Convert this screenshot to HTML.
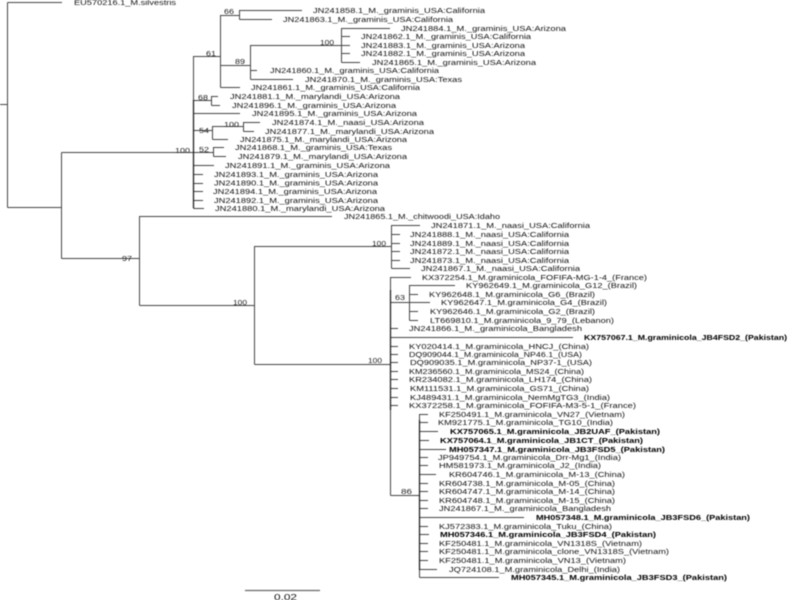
<!DOCTYPE html>
<html><head><meta charset="utf-8"><style>
html,body{margin:0;padding:0;background:#fff;width:800px;height:600px;overflow:hidden}
svg{display:block;filter:blur(.45px)}
text{font-family:"Liberation Sans",sans-serif;font-size:7.6px;fill:#111}
.b{font-weight:bold;fill:#000}
.n{font-size:7.6px;fill:#222}
path{stroke:#444;stroke-width:1;fill:none}
</style></head><body>
<svg width="800" height="600" viewBox="0 0 800 600" xmlns="http://www.w3.org/2000/svg">
<path d="M0 104.500H7.500M7.500 2.500V207.500M7.500 2.500H62M7.500 207.500H61.500M61.500 152.500V258.500M61.500 152.500H193.500M61.500 258.500H139.500
M193.500 56V208.500M193.500 56.500H220.500M220.500 15V87.500M220.500 15.500H239.500M239.500 10V19.500M239.500 10.500H302M239.500 19.500H272
M220.500 65.500H250.500M250.500 45V79.500M250.500 45.500H341.500M341.500 28V62.500M341.500 28.500H390M341.500 36.500H350M341.500 45.500H350M341.500 53.500H350M341.500 62.500H360
M250.500 70.500H257M250.500 79.500H293M220.500 87.500H240
M193.500 100.500H211.500M211.500 96V105.500M211.500 96.500H218M211.500 105.500H220M193.500 113.500H240
M193.500 130.500H212.500M212.500 126V139.500M212.500 126.500H243.500M243.500 122V131.500M243.500 122.500H260M243.500 131.500H254M212.500 139.500H228
M193.500 152.500H213.500M213.500 147V156.500M213.500 147.500H224M213.500 156.500H226
M193.500 165.500H214M193.500 174.500H203M193.500 183.500H203M193.500 191.500H203M193.500 200.500H203M193.500 208.500H204
M139.500 216V305.500M139.500 216.500H332M139.500 305.500H254.500M254.500 246V364.500M254.500 246.500H391.500M391.500 225V268.500
M391.500 225.500H420M391.500 234.500H400M391.500 243.500H400M391.500 251.500H400M391.500 260.500H400M391.500 268.500H410
M254.500 364.500H390.500M390.500 277V495.500M390.500 277.500H411M390.500 302.500H409.500M409.500 285V320.500M409.500 285.500H455M409.500 294.500H418M409.500 302.500H430M409.500 311.500H418M409.500 320.500H418
M390.500 328.500H398M390.500 337.500H573M390.500 346.500H398M390.500 354.500H398M390.500 362.500H398M390.500 371.500H398M390.500 379.500H398M390.500 388.500H398M390.500 397.500H398M390.500 405.500H398
M390.500 495.500H419.500M419.500 414V577.500M419.500 414.500H428M419.500 422.500H428M419.500 431.500H438M419.500 440.500H429M419.500 449.500H446M419.500 457.500H428M419.500 465.500H428M419.500 474.500H436M419.500 483.500H428M419.500 491.500H428M419.500 500.500H428M419.500 508.500H428M419.500 517.500H524M419.500 526.500H428M419.500 534.500H429M419.500 543.500H428M419.500 551.500H428M419.500 560.500H428M419.500 569.500H437M419.500 577.500H499
"/>
<path d="M193.500 100V208M390.500 290V410M419.500 420V570" style="stroke:#222;stroke-width:1.300"/>
<path d="M245 590.500H320" style="stroke:#666;stroke-width:1.200"/>

<text lengthAdjust="spacingAndGlyphs" x="74" y="5" textLength="102">EU570216.1_M.silvestris</text>
<text lengthAdjust="spacingAndGlyphs" x="313" y="13" textLength="172">JN241858.1_M._graminis_USA:California</text>
<text lengthAdjust="spacingAndGlyphs" x="283" y="22" textLength="170">JN241863.1_M._graminis_USA:California</text>
<text lengthAdjust="spacingAndGlyphs" x="401" y="31" textLength="165">JN241884.1_M._graminis_USA:Arizona</text>
<text lengthAdjust="spacingAndGlyphs" x="361" y="39" textLength="170">JN241862.1_M._graminis_USA:California</text>
<text lengthAdjust="spacingAndGlyphs" x="361" y="48" textLength="164">JN241883.1_M._graminis_USA:Arizona</text>
<text lengthAdjust="spacingAndGlyphs" x="361" y="56" textLength="164">JN241882.1_M._graminis_USA:Arizona</text>
<text lengthAdjust="spacingAndGlyphs" x="372" y="65" textLength="164">JN241865.1_M._graminis_USA:Arizona</text>
<text lengthAdjust="spacingAndGlyphs" x="270" y="73" textLength="169">JN241860.1_M._graminis_USA:California</text>
<text lengthAdjust="spacingAndGlyphs" x="305" y="82" textLength="157">JN241870.1_M._graminis_USA:Texas</text>
<text lengthAdjust="spacingAndGlyphs" x="251" y="90" textLength="169">JN241861.1_M._graminis_USA:California</text>
<text lengthAdjust="spacingAndGlyphs" x="230" y="99" textLength="170">JN241881.1_M._marylandi_USA:Arizona</text>
<text lengthAdjust="spacingAndGlyphs" x="232" y="108" textLength="164">JN241896.1_M._graminis_USA:Arizona</text>
<text lengthAdjust="spacingAndGlyphs" x="252" y="116" textLength="165">JN241895.1_M._graminis_USA:Arizona</text>
<text lengthAdjust="spacingAndGlyphs" x="272" y="125" textLength="152">JN241874.1_M._naasi_USA:Arizona</text>
<text lengthAdjust="spacingAndGlyphs" x="265" y="134" textLength="169">JN241877.1_M._marylandi_USA:Arizona</text>
<text lengthAdjust="spacingAndGlyphs" x="240" y="142" textLength="167">JN241875.1_M._marylandi_USA:Arizona</text>
<text lengthAdjust="spacingAndGlyphs" x="235" y="150" textLength="157">JN241868.1_M._graminis_USA:Texas</text>
<text lengthAdjust="spacingAndGlyphs" x="238" y="159" textLength="169">JN241879.1_M._marylandi_USA:Arizona</text>
<text lengthAdjust="spacingAndGlyphs" x="225" y="168" textLength="165">JN241891.1_M._graminis_USA:Arizona</text>
<text lengthAdjust="spacingAndGlyphs" x="214" y="177" textLength="164">JN241893.1_M._graminis_USA:Arizona</text>
<text lengthAdjust="spacingAndGlyphs" x="214" y="185.500" textLength="164">JN241890.1_M._graminis_USA:Arizona</text>
<text lengthAdjust="spacingAndGlyphs" x="213" y="194" textLength="164">JN241894.1_M._graminis_USA:Arizona</text>
<text lengthAdjust="spacingAndGlyphs" x="214" y="203" textLength="164">JN241892.1_M._graminis_USA:Arizona</text>
<text lengthAdjust="spacingAndGlyphs" x="215" y="211" textLength="170">JN241880.1_M._marylandi_USA:Arizona</text>
<text lengthAdjust="spacingAndGlyphs" x="344" y="219" textLength="156">JN241865.1_M._chitwoodi_USA:Idaho</text>
<text lengthAdjust="spacingAndGlyphs" x="431" y="228" textLength="159">JN241871.1_M._naasi_USA:California</text>
<text lengthAdjust="spacingAndGlyphs" x="410" y="237" textLength="159">JN241888.1_M._naasi_USA:California</text>
<text lengthAdjust="spacingAndGlyphs" x="410" y="246" textLength="159">JN241889.1_M._naasi_USA:California</text>
<text lengthAdjust="spacingAndGlyphs" x="410" y="254" textLength="159">JN241872.1_M._naasi_USA:California</text>
<text lengthAdjust="spacingAndGlyphs" x="410" y="263" textLength="159">JN241873.1_M._naasi_USA:California</text>
<text lengthAdjust="spacingAndGlyphs" x="421" y="271" textLength="159">JN241867.1_M._naasi_USA:California</text>
<text lengthAdjust="spacingAndGlyphs" x="422" y="280" textLength="225">KX372254.1_M.graminicola_FOFIFA-MG-1-4_(France)</text>
<text lengthAdjust="spacingAndGlyphs" x="466" y="288" textLength="171">KY962649.1_M.graminicola_G12_(Brazil)</text>
<text lengthAdjust="spacingAndGlyphs" x="429" y="297" textLength="166">KY962648.1_M.graminicola_G6_(Brazil)</text>
<text lengthAdjust="spacingAndGlyphs" x="441" y="305" textLength="166">KY962647.1_M.graminicola_G4_(Brazil)</text>
<text lengthAdjust="spacingAndGlyphs" x="430" y="314" textLength="165">KY962646.1_M.graminicola_G2_(Brazil)</text>
<text lengthAdjust="spacingAndGlyphs" x="430" y="323" textLength="184">LT669810.1_M.graminicola_9_79_(Lebanon)</text>
<text lengthAdjust="spacingAndGlyphs" x="409" y="331" textLength="173">JN241866.1_M._graminicola_Bangladesh</text>
<text lengthAdjust="spacingAndGlyphs" class="b" x="584" y="340" textLength="203">KX757067.1_M.graminicola_JB4FSD2_(Pakistan)</text>
<text lengthAdjust="spacingAndGlyphs" x="409" y="349" textLength="180">KY020414.1_M.graminicola_HNCJ_(China)</text>
<text lengthAdjust="spacingAndGlyphs" x="409" y="357" textLength="173">DQ909044.1_M.graminicola_NP46.1_(USA)</text>
<text lengthAdjust="spacingAndGlyphs" x="410" y="365" textLength="182">DQ909035.1_M.graminicola_NP37-1_(USA)</text>
<text lengthAdjust="spacingAndGlyphs" x="409" y="374" textLength="175">KM236560.1_M.graminicola_MS24_(China)</text>
<text lengthAdjust="spacingAndGlyphs" x="409" y="382" textLength="183">KR234082.1_M.graminicola_LH174_(China)</text>
<text lengthAdjust="spacingAndGlyphs" x="410" y="391" textLength="179">KM111531.1_M.graminicola_GS71_(China)</text>
<text lengthAdjust="spacingAndGlyphs" x="410" y="400" textLength="200">KJ489431.1_M.graminicola_NemMgTG3_(India)</text>
<text lengthAdjust="spacingAndGlyphs" x="409" y="408" textLength="227">KX372258.1_M.graminicola_FOFIFA-M3-5-1_(France)</text>
<text lengthAdjust="spacingAndGlyphs" x="439" y="417" textLength="186">KF250491.1_M.graminicola_VN27_(Vietnam)</text>
<text lengthAdjust="spacingAndGlyphs" x="438" y="425" textLength="175">KM921775.1_M.graminicola_TG10_(India)</text>
<text lengthAdjust="spacingAndGlyphs" class="b" x="450" y="434" textLength="210">KX757065.1_M.graminicola_JB2UAF_(Pakistan)</text>
<text lengthAdjust="spacingAndGlyphs" class="b" x="440" y="443" textLength="203">KX757064.1_M.graminicola_JB1CT_(Pakistan)</text>
<text lengthAdjust="spacingAndGlyphs" class="b" x="449" y="452" textLength="216">MH057347.1_M.graminicola_JB3FSD5_(Pakistan)</text>
<text lengthAdjust="spacingAndGlyphs" x="438" y="460" textLength="183">JP949754.1_M.graminicola_Drr-Mg1_(India)</text>
<text lengthAdjust="spacingAndGlyphs" x="439" y="468" textLength="162">HM581973.1_M.graminicola_J2_(India)</text>
<text lengthAdjust="spacingAndGlyphs" x="449" y="477" textLength="176">KR604746.1_M.graminicola_M-13_(China)</text>
<text lengthAdjust="spacingAndGlyphs" x="439" y="486" textLength="176">KR604738.1_M.graminicola_M-05_(China)</text>
<text lengthAdjust="spacingAndGlyphs" x="439" y="494" textLength="176">KR604747.1_M.graminicola_M-14_(China)</text>
<text lengthAdjust="spacingAndGlyphs" x="439" y="503" textLength="176">KR604748.1_M.graminicola_M-15_(China)</text>
<text lengthAdjust="spacingAndGlyphs" x="439" y="511" textLength="172">JN241867.1_M._graminicola_Bangladesh</text>
<text lengthAdjust="spacingAndGlyphs" class="b" x="536" y="520" textLength="214">MH057348.1_M.graminicola_JB3FSD6_(Pakistan)</text>
<text lengthAdjust="spacingAndGlyphs" x="439" y="529" textLength="173">KJ572383.1_M.graminicola_Tuku_(China)</text>
<text lengthAdjust="spacingAndGlyphs" class="b" x="440" y="537" textLength="216">MH057346.1_M.graminicola_JB3FSD4_(Pakistan)</text>
<text lengthAdjust="spacingAndGlyphs" x="439" y="546" textLength="203">KF250481.1_M.graminicola_VN1318S_(Vietnam)</text>
<text lengthAdjust="spacingAndGlyphs" x="439" y="554" textLength="230">KF250481.1_M.graminicola_clone_VN1318S_(Vietnam)</text>
<text lengthAdjust="spacingAndGlyphs" x="439" y="563" textLength="187">KF250481.1_M.graminicola_VN13_(Vietnam)</text>
<text lengthAdjust="spacingAndGlyphs" x="449" y="572" textLength="171">JQ724108.1_M.graminicola_Delhi_(India)</text>
<text lengthAdjust="spacingAndGlyphs" class="b" x="511" y="580" textLength="216">MH057345.1_M.graminicola_JB3FSD3_(Pakistan)</text>

<text lengthAdjust="spacingAndGlyphs" class="n" x="224" y="14" textLength="10">66</text>
<text lengthAdjust="spacingAndGlyphs" class="n" x="206" y="56" textLength="10">61</text>
<text lengthAdjust="spacingAndGlyphs" class="n" x="320" y="45" textLength="14">100</text>
<text lengthAdjust="spacingAndGlyphs" class="n" x="235" y="64" textLength="10">89</text>
<text lengthAdjust="spacingAndGlyphs" class="n" x="198" y="100" textLength="10">68</text>
<text lengthAdjust="spacingAndGlyphs" class="n" x="224" y="127" textLength="15">100</text>
<text lengthAdjust="spacingAndGlyphs" class="n" x="199" y="133" textLength="10">54</text>
<text lengthAdjust="spacingAndGlyphs" class="n" x="175" y="153" textLength="15">100</text>
<text lengthAdjust="spacingAndGlyphs" class="n" x="199" y="152" textLength="10">52</text>
<text lengthAdjust="spacingAndGlyphs" class="n" x="122" y="261" textLength="10">97</text>
<text lengthAdjust="spacingAndGlyphs" class="n" x="372" y="246" textLength="14">100</text>
<text lengthAdjust="spacingAndGlyphs" class="n" x="233" y="305" textLength="14">100</text>
<text lengthAdjust="spacingAndGlyphs" class="n" x="368" y="363" textLength="14">100</text>
<text lengthAdjust="spacingAndGlyphs" class="n" x="395" y="300" textLength="10">63</text>
<text lengthAdjust="spacingAndGlyphs" class="n" x="401" y="494" textLength="11">86</text>
<text lengthAdjust="spacingAndGlyphs" x="274" y="600" textLength="23" style="font-size:8.5px">0.02</text>
</svg>
</body></html>
